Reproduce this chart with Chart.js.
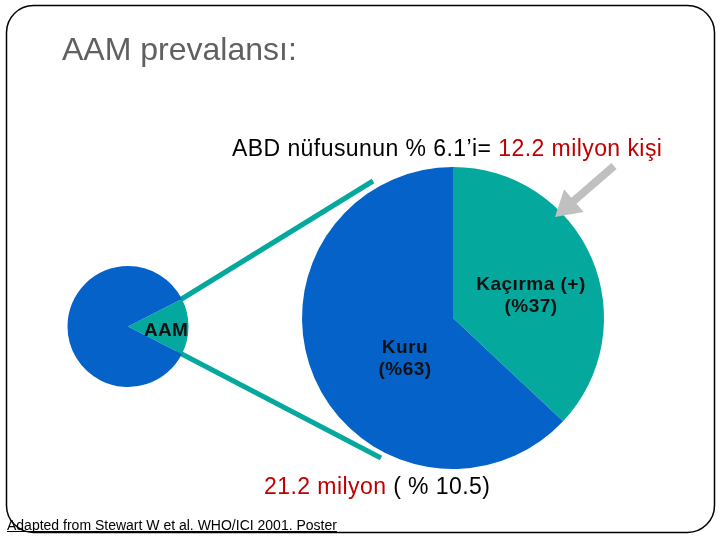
<!DOCTYPE html>
<html>
<head>
<meta charset="utf-8">
<script src="https://cdn.jsdelivr.net/npm/chart.js@4.4.1/dist/chart.umd.min.js"></script>
<style>
  html, body { margin: 0; padding: 0; background: #ffffff; }
  #wrap { position: relative; width: 720px; height: 540px; background: #ffffff; }
  #wrap canvas { position: absolute; left: 0; top: 0; }
</style>
</head>
<body>
<div id="wrap">
  <canvas id="big" width="720" height="540"></canvas>
  <canvas id="small" width="720" height="540"></canvas>
</div>
<script>
// ---- Data ----
const bigLabels = ['Kaçırma (+)', 'Kuru'];
const bigValues = [37, 63];
const bigValueLabels = ['(%37)', '(%63)'];
const smallLabels = ['AAM', 'Diğer'];
const smallValues = [15, 85];
const titleText = 'AAM prevalansı:';
const footText = 'Adapted from Stewart W et al. WHO/ICI 2001. Poster';

const BLUE = '#0562C8';
const TEAL = '#05A89C';
const RED = '#C00000';
const FONT = '"Liberation Sans", Arial, Helvetica, sans-serif';

function drawSegments(ctx, segs, x, y, size, weight, spacing) {
  ctx.font = (weight || 'normal') + ' ' + size + 'px ' + FONT;
  ctx.letterSpacing = (spacing || 0) + 'px';
  ctx.textBaseline = 'alphabetic';
  ctx.textAlign = 'left';
  let cx = x;
  for (const s of segs) {
    ctx.fillStyle = s.c;
    ctx.fillText(s.t, cx, y);
    cx += ctx.measureText(s.t).width;
  }
  ctx.letterSpacing = '0px';
}
function centerText(ctx, t, x, y, size, weight, color, spacing) {
  ctx.font = (weight || 'normal') + ' ' + size + 'px ' + FONT;
  ctx.letterSpacing = (spacing || 0) + 'px';
  ctx.fillStyle = color;
  ctx.textAlign = 'center';
  ctx.textBaseline = 'alphabetic';
  ctx.fillText(t, x, y);
  ctx.letterSpacing = '0px';
}

const decorPlugin = {
  id: 'decor',
  beforeDraw(chart) {
    const ctx = chart.ctx;
    ctx.save();
    // slide frame
    ctx.strokeStyle = '#000000';
    ctx.lineWidth = 1.5;
    ctx.beginPath();
    ctx.roundRect(6.5, 5.5, 708, 527, 27);
    ctx.stroke();
    // connector lines
    ctx.strokeStyle = TEAL;
    ctx.lineWidth = 5;
    ctx.lineCap = 'butt';
    ctx.beginPath();
    ctx.moveTo(180, 300); ctx.lineTo(373, 181);
    ctx.moveTo(176, 351); ctx.lineTo(381, 458);
    ctx.stroke();
    ctx.restore();
  },
  afterDraw(chart) {
    const ctx = chart.ctx;
    ctx.save();
    // title
    drawSegments(ctx, [{t: titleText, c: '#606060'}], 62, 60, 32, 'normal', 0);
    // top annotation
    drawSegments(ctx, [{t: 'ABD nüfusunun % 6.1’i= ', c: '#000000'}, {t: '12.2 milyon kişi', c: RED}], 232, 156, 23, 'normal', 0.43);
    // bottom annotation
    drawSegments(ctx, [{t: '21.2 milyon ', c: RED}, {t: '( % 10.5)', c: '#000000'}], 264, 494, 23, 'normal', 0.43);
    // slice labels
    centerText(ctx, bigLabels[0], 531, 290, 19, 'bold', '#111111', 0.5);
    centerText(ctx, bigValueLabels[0], 531, 312, 19, 'bold', '#111111', 0.5);
    centerText(ctx, bigLabels[1], 405, 353, 19, 'bold', '#111111', 0.5);
    centerText(ctx, bigValueLabels[1], 405, 375, 19, 'bold', '#111111', 0.5);
    // grey arrow
    const x0 = 614, y0 = 166, x1 = 555, y1 = 217;
    const dx = x1 - x0, dy = y1 - y0, L = Math.hypot(dx, dy);
    const ux = dx / L, uy = dy / L, px = -uy, py = ux;
    const headLen = 25, headHalf = 15, shaftHalf = 4;
    const bx = x1 - ux * headLen, by = y1 - uy * headLen;
    ctx.fillStyle = '#C0C0C0';
    ctx.beginPath();
    ctx.moveTo(x0 + px * shaftHalf, y0 + py * shaftHalf);
    ctx.lineTo(bx + px * shaftHalf, by + py * shaftHalf);
    ctx.lineTo(bx + px * headHalf, by + py * headHalf);
    ctx.lineTo(x1, y1);
    ctx.lineTo(bx - px * headHalf, by - py * headHalf);
    ctx.lineTo(bx - px * shaftHalf, by - py * shaftHalf);
    ctx.lineTo(x0 - px * shaftHalf, y0 - py * shaftHalf);
    ctx.closePath();
    ctx.fill();
    // footnote (underlined)
    ctx.font = '14px ' + FONT;
    ctx.fillStyle = '#000000';
    ctx.textAlign = 'left';
    ctx.textBaseline = 'alphabetic';
    ctx.fillText(footText, 7, 530);
    const w = ctx.measureText(footText).width;
    ctx.strokeStyle = '#000000';
    ctx.lineWidth = 1;
    ctx.beginPath();
    ctx.moveTo(7, 531.5); ctx.lineTo(7 + w, 531.5);
    ctx.stroke();
    ctx.restore();
  }
};

const smallLabelPlugin = {
  id: 'smallLabel',
  afterDraw(chart) {
    const ctx = chart.ctx;
    ctx.save();
    centerText(ctx, smallLabels[0], 166, 336, 19, 'bold', '#111111', 0.3);
    ctx.restore();
  }
};

const common = {
  responsive: false,
  animation: false,
  events: [],
  devicePixelRatio: 1,
  plugins: { legend: { display: false }, tooltip: { enabled: false } }
};

new Chart(document.getElementById('big'), {
  type: 'pie',
  data: {
    labels: bigLabels,
    datasets: [{ data: bigValues, backgroundColor: [TEAL, BLUE], borderWidth: 0, hoverOffset: 0 }]
  },
  options: Object.assign({}, common, {
    rotation: 0,
    layout: { padding: { left: 302, right: 116, top: 167, bottom: 71 } }
  }),
  plugins: [decorPlugin]
});

new Chart(document.getElementById('small'), {
  type: 'pie',
  data: {
    labels: smallLabels,
    datasets: [{ data: smallValues, backgroundColor: [TEAL, BLUE], borderWidth: 0, hoverOffset: 0 }]
  },
  options: Object.assign({}, common, {
    rotation: 63,
    layout: { padding: { left: 67.5, right: 531.5, top: 266, bottom: 153 } }
  }),
  plugins: [smallLabelPlugin]
});
</script>
</body>
</html>
